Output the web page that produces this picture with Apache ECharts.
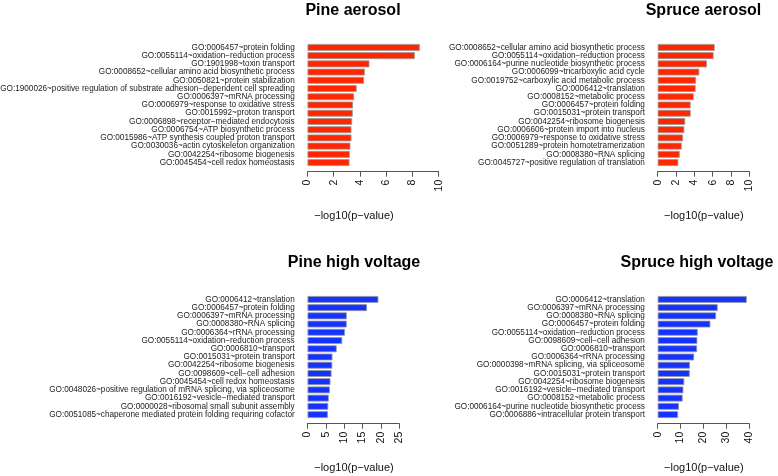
<!DOCTYPE html>
<html><head><meta charset="utf-8">
<script src="https://cdn.jsdelivr.net/npm/echarts@6/dist/echarts.min.js"></script>
<style>html,body{margin:0;padding:0;background:#fff}#c{width:778px;height:476px}</style>
</head><body><div id="c"></div>
<script>
// ---- Data ----
var pineAerosolTerms = [
  "GO:0006457~protein folding",
  "GO:0055114~oxidation−reduction process",
  "GO:1901998~toxin transport",
  "GO:0008652~cellular amino acid biosynthetic process",
  "GO:0050821~protein stabilization",
  "GO:1900026~positive regulation of substrate adhesion−dependent cell spreading",
  "GO:0006397~mRNA processing",
  "GO:0006979~response to oxidative stress",
  "GO:0015992~proton transport",
  "GO:0006898~receptor−mediated endocytosis",
  "GO:0006754~ATP biosynthetic process",
  "GO:0015986~ATP synthesis coupled proton transport",
  "GO:0030036~actin cytoskeleton organization",
  "GO:0042254~ribosome biogenesis",
  "GO:0045454~cell redox homeostasis"
];
var pineAerosolValues = [8.56, 8.18, 4.72, 4.37, 4.31, 3.75, 3.55, 3.47, 3.45, 3.40, 3.35, 3.35, 3.27, 3.22, 3.20];

var spruceAerosolTerms = [
  "GO:0008652~cellular amino acid biosynthetic process",
  "GO:0055114~oxidation−reduction process",
  "GO:0006164~purine nucleotide biosynthetic process",
  "GO:0006099~tricarboxylic acid cycle",
  "GO:0019752~carboxylic acid metabolic process",
  "GO:0006412~translation",
  "GO:0008152~metabolic process",
  "GO:0006457~protein folding",
  "GO:0015031~protein transport",
  "GO:0042254~ribosome biogenesis",
  "GO:0006606~protein import into nucleus",
  "GO:0006979~response to oxidative stress",
  "GO:0051289~protein homotetramerization",
  "GO:0008380~RNA splicing",
  "GO:0045727~positive regulation of translation"
];
var spruceAerosolValues = [6.22, 6.10, 5.38, 4.54, 4.18, 4.14, 3.93, 3.60, 3.60, 3.00, 2.90, 2.76, 2.62, 2.40, 2.25];

var pineHVTerms = [
  "GO:0006412~translation",
  "GO:0006457~protein folding",
  "GO:0006397~mRNA processing",
  "GO:0008380~RNA splicing",
  "GO:0006364~rRNA processing",
  "GO:0055114~oxidation−reduction process",
  "GO:0006810~transport",
  "GO:0015031~protein transport",
  "GO:0042254~ribosome biogenesis",
  "GO:0098609~cell−cell adhesion",
  "GO:0045454~cell redox homeostasis",
  "GO:0048026~positive regulation of mRNA splicing, via spliceosome",
  "GO:0016192~vesicle−mediated transport",
  "GO:0000028~ribosomal small subunit assembly",
  "GO:0051085~chaperone mediated protein folding requiring cofactor"
];
var pineHVValues = [19.3, 16.2, 10.7, 10.7, 10.2, 9.45, 7.95, 6.8, 6.75, 6.55, 6.25, 6.1, 5.8, 5.65, 5.55];

var spruceHVTerms = [
  "GO:0006412~translation",
  "GO:0006397~mRNA processing",
  "GO:0008380~RNA splicing",
  "GO:0006457~protein folding",
  "GO:0055114~oxidation−reduction process",
  "GO:0098609~cell−cell adhesion",
  "GO:0006810~transport",
  "GO:0006364~rRNA processing",
  "GO:0000398~mRNA splicing, via spliceosome",
  "GO:0015031~protein transport",
  "GO:0042254~ribosome biogenesis",
  "GO:0016192~vesicle−mediated transport",
  "GO:0008152~metabolic process",
  "GO:0006164~purine nucleotide biosynthetic process",
  "GO:0006886~intracellular protein transport"
];
var spruceHVValues = [38.9, 26.2, 25.5, 23.0, 17.5, 17.3, 17.2, 15.9, 14.1, 14.0, 11.6, 11.2, 10.9, 9.3, 8.9];

var panelTitles = ["Pine aerosol", "Spruce aerosol", "Pine high voltage", "Spruce high voltage"];
var xAxisMax = [10, 10, 25, 40];
var xAxisInterval = [2, 2, 5, 10];
var xLabelText = "−log10(p−value)";

// ---- Layout / style ----
var FONT = "'Liberation Sans', Arial, Helvetica, sans-serif";
var RED = "#ff2600", BLUE = "#1533ff";
var panels = [
  {terms: pineAerosolTerms, values: pineAerosolValues, color: RED, left: 307.5, width: 131.2, top: 43.3, titleX: 353, titleY: 3},
  {terms: spruceAerosolTerms, values: spruceAerosolValues, color: RED, left: 657.7, width: 91.6, top: 43.3, titleX: 703.5, titleY: 3},
  {terms: pineHVTerms, values: pineHVValues, color: BLUE, left: 307.5, width: 91.8, top: 295.3, titleX: 354, titleY: 255},
  {terms: spruceHVTerms, values: spruceHVValues, color: BLUE, left: 657.7, width: 91.6, top: 295.3, titleX: 697, titleY: 255}
];
var labelCenters = [[354, 216], [703.8, 216], [354, 468], [703.8, 468]];

var grids = [], xAxes = [], yAxes = [], series = [], titles = [], graphics = [];
panels.forEach(function (p, i) {
  grids.push({left: p.left, top: p.top, width: p.width, height: 123.4, containLabel: false, outerBoundsMode: 'none'});
  xAxes.push({
    type: 'value', gridIndex: i, min: 0, max: xAxisMax[i], interval: xAxisInterval[i],
    position: 'bottom', offset: 5,
    axisLine: {show: true, lineStyle: {color: '#555', width: 1}},
    axisTick: {show: true, length: 5, inside: false, lineStyle: {color: '#555'}},
    splitLine: {show: false},
    axisLabel: {rotate: 90, margin: 8, fontSize: 10.5, color: '#111', fontFamily: FONT, showMaxLabel: true, showMinLabel: true}
  });
  yAxes.push({
    type: 'category', gridIndex: i, data: p.terms, inverse: true,
    axisLine: {show: false}, axisTick: {show: false},
    axisLabel: {margin: 12.8, fontSize: 8.2, color: '#222', fontFamily: FONT, interval: 0}
  });
  series.push({
    type: 'bar', xAxisIndex: i, yAxisIndex: i, data: p.values,
    barCategoryGap: '16.7%',
    itemStyle: {color: p.color, borderColor: '#999', borderWidth: 0.8},
    silent: true, animation: false
  });
  titles.push({
    text: panelTitles[i], left: p.titleX, top: p.titleY, textAlign: 'center', padding: 0,
    textStyle: {fontSize: 16, fontWeight: 'bold', color: '#000', fontFamily: FONT}
  });
  graphics.push({
    type: 'text', x: labelCenters[i][0], y: labelCenters[i][1],
    style: {text: xLabelText, fill: '#111', font: '11px ' + FONT, textAlign: 'center', textVerticalAlign: 'middle'}
  });
});

var chart = echarts.init(document.getElementById('c'), null, {renderer: 'canvas'});
chart.setOption({
  animation: false,
  backgroundColor: '#fff',
  title: titles,
  grid: grids,
  xAxis: xAxes,
  yAxis: yAxes,
  series: series,
  graphic: graphics
});
</script></body></html>
